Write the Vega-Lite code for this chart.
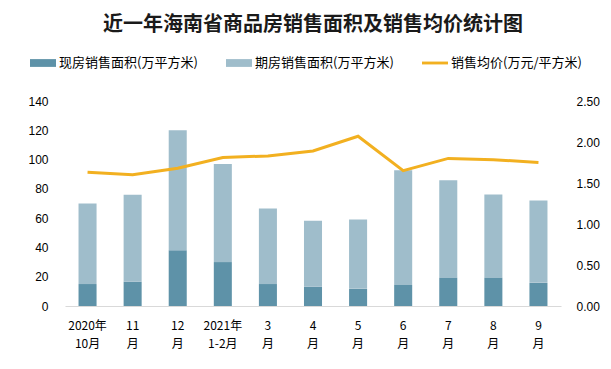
{
  "$schema": "https://vega.github.io/schema/vega-lite/v6.json",
  "width": 611,
  "height": 369,
  "autosize": {"type": "fit", "contains": "padding"},
  "padding": {"left": 27, "right": 11, "top": 15, "bottom": 20},
  "background": "white",
  "title": {
    "text": "近一年海南省商品房销售面积及销售均价统计图",
    "font": "Noto Sans CJK SC",
    "fontSize": 20,
    "fontWeight": "bold",
    "color": "#1a1a1a",
    "anchor": "middle",
    "offset": 60
  },
  "data": {
    "values": [
      {"m": "2020年|10月", "现房销售面积(万平方米)": 15, "期房销售面积(万平方米)": 55, "price": 1.63},
      {"m": "11|月", "现房销售面积(万平方米)": 16.5, "期房销售面积(万平方米)": 59.5, "price": 1.60},
      {"m": "12|月", "现房销售面积(万平方米)": 38, "期房销售面积(万平方米)": 82, "price": 1.68},
      {"m": "2021年|1-2月", "现房销售面积(万平方米)": 30, "期房销售面积(万平方米)": 67, "price": 1.81},
      {"m": "3|月", "现房销售面积(万平方米)": 15, "期房销售面积(万平方米)": 51.6, "price": 1.83},
      {"m": "4|月", "现房销售面积(万平方米)": 13.2, "期房销售面积(万平方米)": 45.1, "price": 1.89},
      {"m": "5|月", "现房销售面积(万平方米)": 11.7, "期房销售面积(万平方米)": 47.3, "price": 2.07},
      {"m": "6|月", "现房销售面积(万平方米)": 14.4, "期房销售面积(万平方米)": 78.3, "price": 1.65},
      {"m": "7|月", "现房销售面积(万平方米)": 19.2, "期房销售面积(万平方米)": 66.6, "price": 1.80},
      {"m": "8|月", "现房销售面积(万平方米)": 19.2, "期房销售面积(万平方米)": 57, "price": 1.785},
      {"m": "9|月", "现房销售面积(万平方米)": 15.8, "期房销售面积(万平方米)": 56.2, "price": 1.75}
    ]
  },
  "encoding": {
    "x": {
      "field": "m",
      "type": "nominal",
      "sort": null,
      "scale": {"paddingInner": 0.6, "paddingOuter": 0.3},
      "axis": {
        "title": null,
        "labelAngle": 0,
        "labelExpr": "split(datum.label, '|')",
        "labelFont": "Noto Sans CJK SC",
        "labelFontSize": 12,
        "labelColor": "#000000",
        "labelLineHeight": 18,
        "labelPadding": 14,
        "ticks": false,
        "domainColor": "#D9D9D9",
        "domainWidth": 1,
        "grid": false
      }
    }
  },
  "layer": [
    {
      "transform": [
        {"fold": ["现房销售面积(万平方米)", "期房销售面积(万平方米)"], "as": ["series", "value"]}
      ],
      "mark": {"type": "bar"},
      "encoding": {
        "y": {
          "field": "value",
          "type": "quantitative",
          "stack": "zero",
          "scale": {"domain": [0, 140], "nice": false},
          "axis": {
            "title": null,
            "values": [0, 20, 40, 60, 80, 100, 120, 140],
            "grid": false,
            "domain": false,
            "ticks": false,
            "labelFont": "Liberation Sans",
            "labelFontSize": 12,
            "labelColor": "#000000",
            "labelPadding": 17
          }
        },
        "color": {
          "field": "series",
          "type": "nominal",
          "scale": {
            "domain": ["现房销售面积(万平方米)", "期房销售面积(万平方米)", "销售均价(万元/平方米)"],
            "range": ["#5E92A8", "#9FBDCB", "#F2B020"]
          },
          "legend": {
            "title": null,
            "orient": "none",
            "direction": "horizontal",
            "legendX": -35,
            "legendY": -51,
            "labelFont": "Noto Sans CJK SC",
            "labelFontSize": 13,
            "labelColor": "#000000",
            "labelOffset": 3,
            "columnPadding": 28,
            "symbolSize": 676,
            "symbolStrokeWidth": 0,
            "symbolOpacity": 1,
            "encode": {
              "symbols": {
                "update": {
                  "shape": {"signal": "datum.value == '销售均价(万元/平方米)' ? 'M-1,-0.11H1V0.11H-1Z' : 'M-1,-0.3H1V0.3H-1Z'"},
                  "fill": {"scale": "color", "field": "value"},
                  "strokeWidth": {"value": 0}
                }
              }
            }
          }
        },
        "order": {"field": "series", "sort": "descending"}
      }
    },
    {
      "mark": {"type": "line", "strokeWidth": 3},
      "encoding": {
        "y": {
          "field": "price",
          "type": "quantitative",
          "scale": {"domain": [0, 2.5], "nice": false},
          "axis": {
            "title": null,
            "orient": "right",
            "values": [0, 0.5, 1, 1.5, 2, 2.5],
            "format": ".2f",
            "grid": false,
            "domain": false,
            "ticks": false,
            "labelFont": "Liberation Sans",
            "labelFontSize": 12,
            "labelColor": "#000000",
            "labelPadding": 15
          }
        },
        "color": {"datum": "销售均价(万元/平方米)"}
      }
    }
  ],
  "resolve": {"scale": {"y": "independent"}},
  "config": {"view": {"stroke": null}}
}
